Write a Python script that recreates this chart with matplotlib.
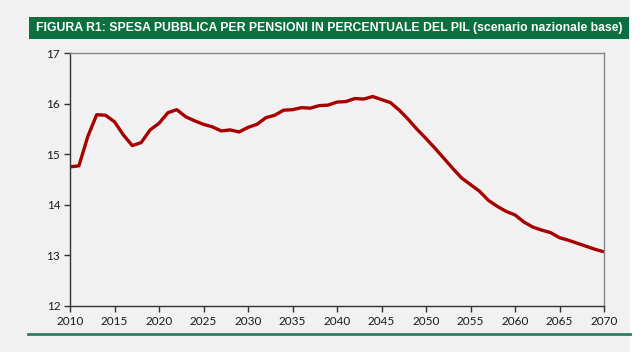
import matplotlib.pyplot as plt
from matplotlib.patches import Rectangle
from matplotlib.lines import Line2D

# Spesa pubblica per pensioni in % del PIL, scenario nazionale base
years = list(range(2010, 2071))
spesa = [
    14.75, 14.77, 15.35, 15.78, 15.77, 15.64, 15.38, 15.17, 15.23, 15.48,
    15.61, 15.82, 15.88, 15.74, 15.66, 15.59, 15.54, 15.46, 15.48, 15.44,
    15.53, 15.59, 15.72, 15.77, 15.87, 15.88, 15.92, 15.91, 15.96, 15.97,
    16.03, 16.04, 16.10, 16.09, 16.14, 16.08, 16.02, 15.87, 15.69, 15.49,
    15.31, 15.12, 14.92, 14.72, 14.53, 14.40, 14.27, 14.09, 13.97, 13.87,
    13.80, 13.66, 13.56, 13.50, 13.45, 13.35, 13.30, 13.24, 13.18, 13.12,
    13.07,
]
xticks = list(range(2010, 2071, 5))
yticks = [12, 13, 14, 15, 16, 17]
titolo = "FIGURA R1: SPESA PUBBLICA PER PENSIONI IN PERCENTUALE DEL PIL (scenario nazionale base)"

bg = '#f1f1f1'
green = '#0a7040'

fig = plt.figure(figsize=(6.43, 3.52), dpi=100, facecolor=bg)
W, H = 643, 352

# white strip on the right edge
fig.patches.append(Rectangle((630 / W, 0), 13 / W, 1, transform=fig.transFigure,
                             facecolor='white', edgecolor='none', zorder=0))

# green title bar
fig.patches.append(Rectangle((29 / W, 1 - 39 / H), 600 / W, 22 / H, transform=fig.transFigure,
                             facecolor=green, edgecolor='none', zorder=1))
fig.text(329 / W, 1 - 28 / H, titolo, color='white', ha='center', va='center',
         fontsize=8.85, fontweight='bold',
         family=['Liberation Sans', 'DejaVu Sans'], zorder=2)

# green line at the bottom
fig.lines.append(Line2D([28 / W, 630 / W], [1 - 334 / H, 1 - 334 / H], transform=fig.transFigure,
                        color='#2a8060', linewidth=2))

ax = fig.add_axes([70 / W, 1 - 306 / H, 534 / W, 253 / H])
ax.set_facecolor(bg)
ax.plot(years, spesa, color='#a80000', linewidth=2.4, solid_capstyle='butt')

ax.set_xlim(2010, 2070)
ax.set_ylim(12, 17)
ax.set_xticks(xticks)
ax.set_yticks(yticks)

for s in ['left', 'bottom']:
    ax.spines[s].set_color('#333333')
    ax.spines[s].set_linewidth(1.0)
for s in ['top', 'right']:
    ax.spines[s].set_color('#888888')
    ax.spines[s].set_linewidth(1.0)

ax.tick_params(direction='out', length=4, width=1, color='#333333',
               labelsize=8.5, labelcolor='#1a1a1a', pad=3)
for lab in ax.get_xticklabels() + ax.get_yticklabels():
    lab.set_family(['Lato', 'DejaVu Sans'])

fig.savefig('out.png', dpi=100, facecolor=bg)
